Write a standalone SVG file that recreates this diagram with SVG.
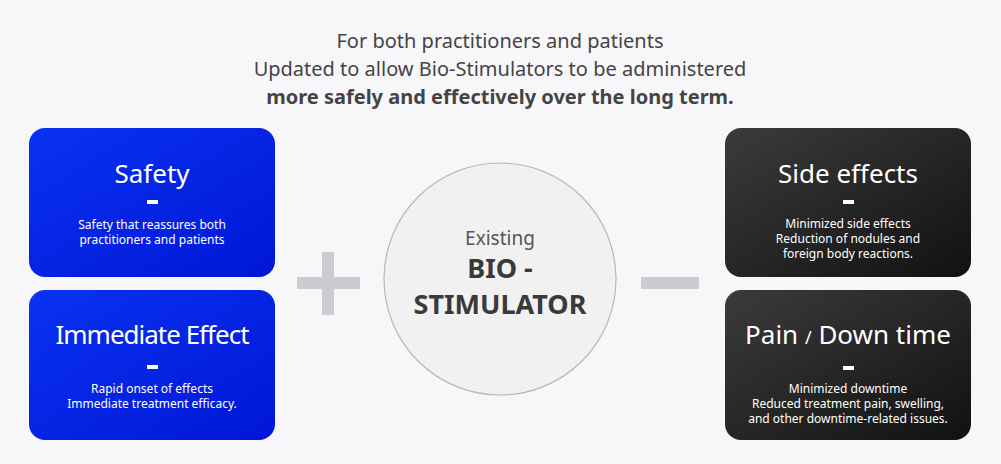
<svg xmlns="http://www.w3.org/2000/svg" width="1001" height="464" viewBox="0 0 1001 464">
<defs>
<linearGradient id="blue" x1="0" y1="0" x2="1" y2="1">
<stop offset="0" stop-color="#0a32f2"/>
<stop offset="1" stop-color="#0016d6"/>
</linearGradient>
<linearGradient id="dark" x1="0" y1="0" x2="1" y2="1">
<stop offset="0" stop-color="#3b3b3b"/>
<stop offset="1" stop-color="#111111"/>
</linearGradient>
<style>
.t{font-family:"Noto Sans","Liberation Sans",sans-serif;text-anchor:middle}
.head{font-size:20px;fill:#444}
.title{font-size:26px;fill:#fff}
.sub{font-size:12px;fill:#fff}
.dash{fill:#fff}
.op{fill:#cbcbd0}
.bio{font-size:27px;font-weight:bold;fill:#3a3a3a}
</style>
</defs>
<rect width="1001" height="464" fill="#f7f7fa"/>
<g id="header">
<text class="t head" x="500" y="48">For both practitioners and patients</text>
<text class="t head" x="500" y="76">Updated to allow Bio-Stimulators to be administered</text>
<text class="t head" x="500" y="104" font-weight="bold">more safely and effectively over the long term.</text>
</g>
<g id="safety">
<rect x="29" y="128" width="246" height="149" rx="16" fill="url(#blue)"/>
<text class="t title" x="152" y="183">Safety</text>
<rect class="dash" x="147" y="200" width="11" height="4"/>
<text class="t sub" x="152" y="229">Safety that reassures both</text>
<text class="t sub" x="152" y="244">practitioners and patients</text>
</g>
<g id="immediate-effect">
<rect x="29" y="290" width="246" height="150" rx="16" fill="url(#blue)"/>
<text class="t title" x="152" y="344" letter-spacing="-1">Immediate Effect</text>
<rect class="dash" x="147" y="365" width="11" height="4"/>
<text class="t sub" x="152" y="393">Rapid onset of effects</text>
<text class="t sub" x="152" y="408">Immediate treatment efficacy.</text>
</g>
<g id="side-effects">
<rect x="725" y="128" width="246" height="149" rx="16" fill="url(#dark)"/>
<text class="t title" x="848" y="183">Side effects</text>
<rect class="dash" x="843" y="200" width="11" height="4"/>
<text class="t sub" x="848" y="228">Minimized side effects</text>
<text class="t sub" x="848" y="243">Reduction of nodules and</text>
<text class="t sub" x="848" y="258">foreign body reactions.</text>
</g>
<g id="pain-downtime">
<rect x="725" y="290" width="246" height="150" rx="16" fill="url(#dark)"/>
<text class="t title" x="848" y="344">Pain <tspan font-size="18">/</tspan> Down time</text>
<rect class="dash" x="843" y="366" width="11" height="4"/>
<text class="t sub" x="848" y="393">Minimized downtime</text>
<text class="t sub" x="848" y="408">Reduced treatment pain, swelling,</text>
<text class="t sub" x="848" y="423">and other downtime-related issues.</text>
</g>
<g id="bio-stimulator">
<circle cx="500" cy="279" r="116" fill="#f1f1f2" stroke="#b8b8bb" stroke-width="1.2"/>
<text class="t" x="500" y="245" font-size="19" fill="#555">Existing</text>
<text class="t bio" x="500" y="278">BIO -</text>
<text class="t bio" x="500" y="314">STIMULATOR</text>
</g>
<g id="connectors">
<rect class="op" x="297" y="277" width="63" height="12"/>
<rect class="op" x="322" y="252" width="12" height="63"/>
<rect class="op" x="641" y="277" width="58" height="12"/>
</g>
</svg>
